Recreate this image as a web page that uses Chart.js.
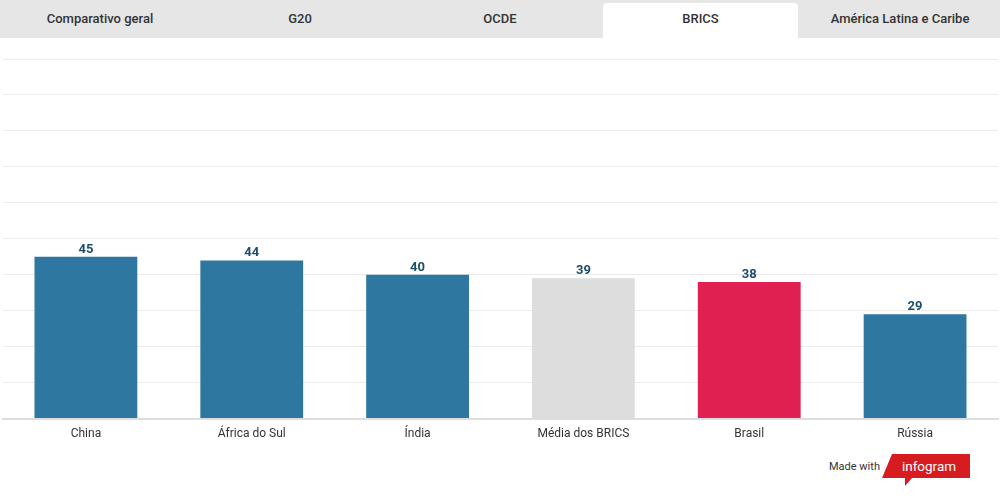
<!DOCTYPE html>
<html><head><meta charset="utf-8">
<script src="https://cdn.jsdelivr.net/npm/chart.js@4"></script>
<style>
html,body{margin:0;padding:0;background:#fff;width:1000px;height:497px;overflow:hidden;font-family:Roboto,"Open Sans",sans-serif;}
#tabs{position:absolute;left:0;top:0;width:1000px;height:38px;background:#e6e6e6;}
.tab{position:absolute;top:0;height:38px;width:200px;text-align:center;line-height:38px;font-size:13px;font-weight:500;color:#333;}
.tab.active{background:#fff;top:3px;height:35px;line-height:32px;border-radius:4px 4px 0 0;left:603px!important;width:195px;}
#wrap{position:absolute;left:0;top:40px;width:1000px;height:401px;}
#logo{position:absolute;left:829px;top:452px;}
</style></head><body>
<div id="tabs"></div>
<div id="wrap"><canvas id="c"></canvas></div>
<svg id="logo" width="150" height="40" viewBox="0 0 150 40">
<text x="0" y="18" font-family="Roboto,sans-serif" font-size="11" fill="#333">Made with</text>
<polygon points="63,2 141,2 141,26 83,26 76,34 76,26 53,26" fill="#d71c21"/>
<text x="100" y="19" text-anchor="middle" font-family="Roboto,sans-serif" font-size="13.5" fill="#fff">infogram</text>
</svg>
<script>
const tabLabels = ["Comparativo geral","G20","OCDE","BRICS","América Latina e Caribe"];
const activeTab = "BRICS";
const categories = ["China","África do Sul","Índia","Média dos BRICS","Brasil","Rússia"];
const values = [45,44,40,39,38,29];
const barColors = ["#2e77a0","#2e77a0","#2e77a0","#dddddd","#e02050","#2e77a0"];

const tabs=document.getElementById('tabs');
tabLabels.forEach((t,i)=>{const d=document.createElement('div');d.className='tab'+(t===activeTab?' active':'');d.style.left=(i*200)+'px';d.textContent=t;tabs.appendChild(d);});

const valueLabels={id:'vl',afterDatasetsDraw(chart){const ctx=chart.ctx;const meta=chart.getDatasetMeta(0);ctx.save();ctx.font='bold 13px Roboto, sans-serif';ctx.fillStyle='#1d4e6c';ctx.textAlign='center';ctx.textBaseline='bottom';meta.data.forEach((b,i)=>{ctx.fillText(values[i],b.x,b.y-1);});ctx.restore();}};

new Chart(document.getElementById('c'),{
type:'bar',
data:{labels:categories,datasets:[{data:values,backgroundColor:barColors,barPercentage:0.62,categoryPercentage:1}]},
options:{responsive:true,maintainAspectRatio:false,animation:false,
layout:{padding:{top:19,left:3,right:2,bottom:0}},
plugins:{legend:{display:false},tooltip:{enabled:false}},
scales:{
x:{grid:{display:false},border:{color:'#dddddd',width:2},ticks:{color:'#333',font:{family:'Roboto',size:12},padding:0}},
y:{min:0,max:100,ticks:{display:false,stepSize:10},border:{display:false},grid:{color:'#ebebeb',drawTicks:false}}
}},
plugins:[valueLabels]
});
</script>
</body></html>
